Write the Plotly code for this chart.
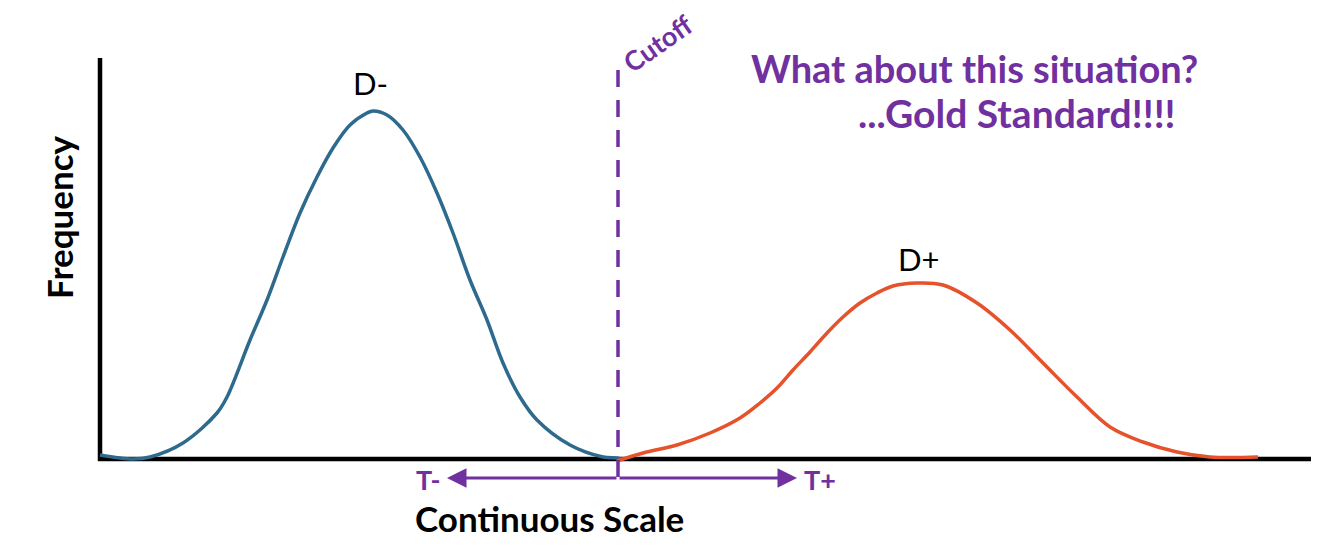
import plotly.graph_objects as go

# Curve data (x: continuous scale units, y: frequency units)
d_neg_x = [0.00, 0.33, 0.50, 0.83, 1.17, 1.27, 1.50, 1.67, 1.83, 2.00, 2.17, 2.33, 2.50, 2.67, 2.73,
           2.87, 3.03, 3.20, 3.37, 3.53, 3.70, 3.87, 4.03, 4.20, 4.37, 4.70, 5.03, 5.17, 5.22]
d_neg_y = [0.04, 0.00, 0.02, 0.16, 0.46, 0.62, 1.19, 1.59, 2.02, 2.46, 2.82, 3.11, 3.34, 3.46, 3.48,
           3.44, 3.29, 3.02, 2.66, 2.26, 1.79, 1.39, 0.96, 0.62, 0.39, 0.14, 0.02, 0.01, 0.00]

d_pos_x = [5.17, 5.43, 5.77, 6.10, 6.40, 6.60, 6.77, 6.93, 7.10, 7.27, 7.43, 7.60, 7.77, 7.93, 8.17,
           8.43, 8.77, 9.10, 9.43, 9.77, 10.10, 10.43, 10.77, 11.10, 11.58]
d_pos_y = [-0.02, 0.06, 0.14, 0.26, 0.41, 0.56, 0.71, 0.89, 1.07, 1.26, 1.42, 1.56, 1.66, 1.73, 1.76,
           1.74, 1.56, 1.29, 0.96, 0.62, 0.32, 0.17, 0.07, 0.02, 0.02]

cutoff_x = 5.18
arrow_tips = [3.47, 6.97]
x_axis_end = 12.11
y_axis_top = 4.01

PURPLE = "#7030A0"
BLUE = "#2D6A8D"
ORANGE = "#E5522B"
FONT = "Lato"

fig = go.Figure()
fig.add_trace(go.Scatter(x=d_neg_x, y=d_neg_y, mode="lines", line=dict(color=BLUE, width=3.5, shape="spline"),
                         hoverinfo="skip", showlegend=False))
fig.add_trace(go.Scatter(x=d_pos_x, y=d_pos_y, mode="lines", line=dict(color=ORANGE, width=3.5, shape="spline"),
                         hoverinfo="skip", showlegend=False))

# axes
fig.add_shape(type="line", x0=-0.02, x1=x_axis_end, y0=0, y1=0, line=dict(color="black", width=4.5), layer="below")
fig.add_shape(type="line", x0=0, x1=0, y0=-0.02, y1=y_axis_top, line=dict(color="black", width=4.5), layer="below")
# cutoff
fig.add_shape(type="line", x0=cutoff_x, x1=cutoff_x, y0=3.89, y1=-0.27,
              line=dict(color=PURPLE, width=3.5, dash="17px,13px"))

# arrows
arrow_y = -0.19
for tip in arrow_tips:
    fig.add_annotation(x=tip, y=arrow_y, ax=cutoff_x, ay=arrow_y, xref="x", yref="y", axref="x", ayref="y",
                       text="", showarrow=True, arrowhead=2, arrowsize=1.3, arrowwidth=3, arrowcolor=PURPLE,
                       standoff=0, startstandoff=0)

def txt(x, y, s, size, color, angle=0, bold=False):
    fig.add_annotation(x=x, y=y, text=(f"<b>{s}</b>" if bold else s), showarrow=False, textangle=angle,
                       font=dict(family=FONT, size=size, color=color), xanchor="center", yanchor="middle")

txt(3.28, -0.20, "T-", 27, PURPLE, bold=True)
txt(7.20, -0.20, "T+", 27, PURPLE, bold=True)
txt(4.49, -0.59, "Continuous Scale", 35, "black", bold=True)
txt(-0.41, 2.42, "Frequency", 35, "black", angle=-90, bold=True)
txt(2.70, 3.76, "D-", 31, "black")
txt(8.19, 2.00, "D+", 31, "black")
txt(5.57, 4.16, "Cutoff", 27, PURPLE, angle=-35, bold=True)
txt(8.74, 3.91, "What about this situation?", 38, PURPLE, bold=True)
txt(9.17, 3.46, "...Gold Standard!!!!", 39, PURPLE, bold=True)

# page has an 8px body margin; figure covers reference pixels 8..1334 x 8..554
fig.update_layout(
    width=1326, height=546, margin=dict(l=0, r=0, t=0, b=0),
    paper_bgcolor="white", plot_bgcolor="white",
    xaxis=dict(range=[-0.92, 12.34], visible=False, fixedrange=True),
    yaxis=dict(range=[-0.95, 4.51], visible=False, fixedrange=True),
)
fig.write_html("out.html")
